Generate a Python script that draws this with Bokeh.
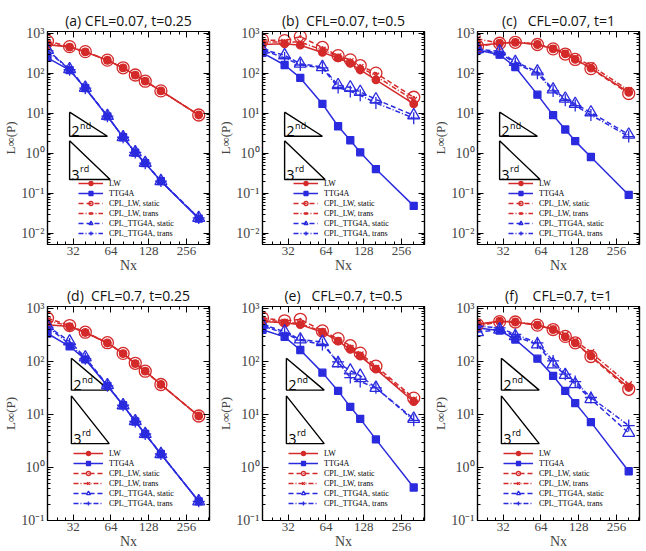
from bokeh.plotting import figure
from bokeh.layouts import gridplot
from bokeh.models import (FixedTicker, LogAxis, CustomJSTickFormatter, Legend,
                          LegendItem, ColumnDataSource, Range1d)
from bokeh.core.properties import value
from bokeh.embed import file_html
from bokeh.resources import INLINE

# grid sizes
nx = [20, 30, 40, 60, 80, 100, 120, 160, 320]
x_ticks = [32, 64, 128, 256]
series_names = ["LW", "TTG4A", "CPL_LW, static", "CPL_LW, trans",
                "CPL_TTG4A, static", "CPL_TTG4A, trans"]

# (a) CFL=0.07, t=0.25
a_lw = [510, 450, 340, 210, 135, 89, 63, 36, 9.0]
a_ttg4a = [240, 119, 42, 8.3, 2.5, 1.03, 0.56, 0.20, 0.023]
a_cpl_lw_static = [630, 460, 345, 212, 136, 90, 63, 36, 9.0]
a_cpl_lw_trans = [560, 450, 340, 210, 135, 89, 63, 36, 9.0]
a_cpl_ttg4a_static = [380, 126, 43, 8.5, 2.5, 1.05, 0.57, 0.20, 0.024]
a_cpl_ttg4a_trans = [360, 122, 42, 8.4, 2.5, 1.04, 0.56, 0.20, 0.024]

# (b) CFL=0.07, t=0.5
b_lw = [520, 540, 500, 330, 240, 175, 120, 68, 17]
b_ttg4a = [320, 160, 76, 17, 4.7, 2.1, 1.05, 0.40, 0.048]
b_cpl_lw_static = [680, 650, 820, 440, 275, 215, 155, 100, 25]
b_cpl_lw_trans = [600, 600, 600, 380, 260, 195, 140, 85, 21]
b_cpl_ttg4a_static = [390, 280, 172, 142, 50, 44, 34, 22, 8.8]
b_cpl_ttg4a_trans = [380, 240, 160, 135, 44, 35, 28, 18, 7.5]

# (c) CFL=0.07, t=1
c_lw = [490, 560, 590, 520, 405, 305, 220, 134, 33]
c_ttg4a = [380, 290, 142, 29, 8.9, 3.9, 2.0, 0.80, 0.09]
c_cpl_lw_static = [470, 560, 590, 520, 405, 300, 220, 130, 31]
c_cpl_lw_trans = [720, 560, 600, 540, 420, 320, 240, 156, 37]
c_cpl_ttg4a_static = [400, 350, 190, 110, 39, 23, 17, 10.4, 2.9]
c_cpl_ttg4a_trans = [380, 320, 175, 100, 36, 21, 15.5, 9.0, 2.6]

# (d) CFL=0.7, t=0.25
d_lw = [500, 460, 355, 225, 142, 92, 66, 37, 9.4]
d_ttg4a = [340, 195, 110, 35, 15, 7.4, 4.3, 1.8, 0.23]
d_cpl_lw_static = [660, 480, 360, 228, 143, 93, 66, 37, 9.4]
d_cpl_lw_trans = [600, 470, 355, 225, 142, 92, 66, 37, 9.4]
d_cpl_ttg4a_static = [470, 240, 120, 36, 15, 7.5, 4.3, 1.8, 0.23]
d_cpl_ttg4a_trans = [450, 215, 114, 35, 15, 7.4, 4.3, 1.8, 0.23]

# (e) CFL=0.7, t=0.5
e_lw = [570, 540, 500, 360, 244, 170, 127, 72, 17.5]
e_ttg4a = [400, 294, 166, 62, 28, 14, 8.3, 3.4, 0.42]
e_cpl_lw_static = [670, 590, 630, 380, 272, 200, 145, 82, 20.5]
e_cpl_lw_trans = [620, 560, 520, 370, 250, 180, 135, 75, 19]
e_cpl_ttg4a_static = [500, 370, 262, 234, 93, 68, 54, 32, 8.3]
e_cpl_ttg4a_trans = [480, 340, 254, 211, 99, 50, 42, 32, 7.8]

# (f) CFL=0.7, t=1
f_lw = [516, 580, 560, 487, 404, 294, 227, 128, 32.5]
f_ttg4a = [434, 387, 262, 114, 54, 28, 16.5, 7.2, 0.85]
f_cpl_lw_static = [500, 570, 560, 490, 404, 300, 227, 125, 30]
f_cpl_lw_trans = [460, 580, 565, 500, 420, 320, 250, 150, 37]
f_cpl_ttg4a_static = [360, 404, 303, 211, 89, 56, 37.6, 19.6, 4.5]
f_cpl_ttg4a_trans = [466, 434, 326, 227, 103, 58, 42, 21, 6.2]

RED = "#d42a2a"
BLUE = "#2a2ade"

# line / marker style per series, same order as series_names
styles = [
    dict(color=RED, dash="solid", marker="circle", size=7.5, filled=True),
    dict(color=BLUE, dash="solid", marker="square", size=7, filled=True),
    dict(color=RED, dash="5 3", marker="circle_dot", size=12, filled=False),
    dict(color=RED, dash="5 2 1 2", marker="x", size=9, filled=False),
    dict(color=BLUE, dash="5 3", marker="triangle", size=12, filled=False),
    dict(color=BLUE, dash="5 2 1 2", marker="cross", size=12, filled=False),
]

x_minor = [b * (1 + j / 4) for b in (8, 16, 32, 64, 128, 256) for j in range(1, 4)]
y_major = [10.0 ** k for k in range(-3, 4)]
y_minor = [m * 10.0 ** k for k in range(-3, 3) for m in range(2, 10)]

sup_js = """
const sup = {"-": "\\u207b", "0": "\\u2070", "1": "\\u00b9", "2": "\\u00b2", "3": "\\u00b3",
             "4": "\\u2074", "5": "\\u2075", "6": "\\u2076", "7": "\\u2077", "8": "\\u2078", "9": "\\u2079"};
const e = Math.round(Math.log10(tick));
let s = "";
for (const c of String(e)) { s += sup[c]; }
return "10" + s;
"""

SERIF = "Liberation Serif"


def style_axis(ax, ticker, labels=True):
    ax.ticker = ticker
    ax.major_tick_in = 6
    ax.major_tick_out = 0
    ax.minor_tick_in = 3
    ax.minor_tick_out = 0
    ax.major_tick_line_color = "black"
    ax.minor_tick_line_color = "black"
    ax.axis_line_color = "black"
    ax.axis_line_width = 1.2
    if not labels:
        # mirrored axis: ticks only
        ax.formatter = CustomJSTickFormatter(code="return '';")
        ax.major_label_text_color = None
        ax.major_label_standoff = 0


def make_panel(title, series, y_lo, y_hi, tri, legend_loc, glyph_w, height):
    p = figure(width=215, height=height, x_axis_type="log", y_axis_type="log",
               x_range=Range1d(20, 390), y_range=Range1d(y_lo, y_hi),
               output_backend="svg", toolbar_location=None,
               min_border_left=41, min_border_right=6,
               min_border_top=31, min_border_bottom=29)
    p.grid.visible = False
    p.outline_line_color = "black"
    p.outline_line_width = 1.2
    p.background_fill_color = "white"

    p.title.text = title
    p.title.align = "center"
    p.title.text_font = "Open Sans"
    p.title.text_font_size = "14px"
    p.title.text_font_style = "normal"
    p.title.text_color = "#111111"
    p.title.standoff = 3

    xt = FixedTicker(ticks=x_ticks, minor_ticks=x_minor)
    yt = FixedTicker(ticks=y_major, minor_ticks=y_minor)

    style_axis(p.xaxis[0], xt)
    p.xaxis[0].formatter = CustomJSTickFormatter(code="return String(Math.round(tick));")
    p.xaxis[0].major_label_text_font = SERIF
    p.xaxis[0].major_label_text_font_size = "13px"
    p.xaxis[0].major_label_standoff = 2
    p.xaxis[0].axis_label = "Nx"
    p.xaxis[0].axis_label_text_font = SERIF
    p.xaxis[0].axis_label_text_font_size = "14px"
    p.xaxis[0].axis_label_text_font_style = "normal"
    p.xaxis[0].axis_label_standoff = 0

    style_axis(p.yaxis[0], yt)
    p.yaxis[0].formatter = CustomJSTickFormatter(code=sup_js)
    p.yaxis[0].major_label_text_font = SERIF
    p.yaxis[0].major_label_text_font_size = "14px"
    p.yaxis[0].major_label_standoff = 3
    p.yaxis[0].axis_label = "L\u221e(P)"
    p.yaxis[0].axis_label_text_font = SERIF
    p.yaxis[0].axis_label_text_font_size = "13px"
    p.yaxis[0].axis_label_text_font_style = "normal"
    p.yaxis[0].axis_label_standoff = 0

    right = LogAxis()
    style_axis(right, FixedTicker(ticks=y_major, minor_ticks=y_minor), labels=False)
    p.add_layout(right, "right")
    top = LogAxis()
    style_axis(top, FixedTicker(ticks=x_ticks, minor_ticks=x_minor), labels=False)
    p.add_layout(top, "above")

    # slope triangles
    x0, ratio2, top2, ratio3, top3 = tri
    for order, ratio, ytop, lbl, sup in ((2, ratio2, top2, "2", "nd"), (3, ratio3, top3, "3", "rd")):
        x1 = x0 * ratio
        ybot = ytop / ratio ** order
        p.line([x0, x0, x1, x0], [ytop, ybot, ybot, ytop], line_color="black", line_width=1.4)
        p.text([x0], [ybot], text=[lbl], text_font=value("Open Sans"), text_font_size="14px",
               text_baseline="bottom", x_offset=2, y_offset=0, text_color="black")
        p.text([x0], [ybot], text=[sup], text_font=value("Open Sans"), text_font_size="9px",
               text_baseline="bottom", x_offset=10.5, y_offset=-4.5, text_color="black")

    items = []
    for name, ys, st in zip(series_names, series, styles):
        src = ColumnDataSource(dict(x=nx, y=ys))
        lr = p.line("x", "y", source=src, line_color=st["color"], line_width=1.5,
                    line_dash=st["dash"])
        sr = p.scatter("x", "y", source=src, marker=st["marker"], size=st["size"],
                       line_color=st["color"], line_width=1.3,
                       fill_color=st["color"] if st["filled"] else None)
        items.append(LegendItem(label=name, renderers=[lr, sr]))

    leg = Legend(items=items, location=legend_loc, padding=0, margin=0, spacing=0,
                 glyph_width=glyph_w, glyph_height=10, label_height=10,
                 label_standoff=6, label_text_font=SERIF, label_text_font_size="8px",
                 label_text_color="black",
                 background_fill_alpha=0, border_line_alpha=0)
    p.add_layout(leg)
    return p


NB = "\u00a0"
tri_top = (30, 2.0, 10.6, 2.1, 2.03)
tri_bot = (31, 2.0, 116, 2.0, 22.6)

pa = make_panel("(a) CFL=0.07, t=0.25",
                [a_lw, a_ttg4a, a_cpl_lw_static, a_cpl_lw_trans, a_cpl_ttg4a_static, a_cpl_ttg4a_trans],
                0.0052, 1100, tri_top, (31, 6), 25, 275)
pb = make_panel("(b)" + NB * 2 + "CFL=0.07, t=0.5",
                [b_lw, b_ttg4a, b_cpl_lw_static, b_cpl_lw_trans, b_cpl_ttg4a_static, b_cpl_ttg4a_trans],
                0.0052, 1100, tri_top, (31, 6), 25, 275)
pc = make_panel("(c)" + NB * 3 + "CFL=0.07, t=1",
                [c_lw, c_ttg4a, c_cpl_lw_static, c_cpl_lw_trans, c_cpl_ttg4a_static, c_cpl_ttg4a_trans],
                0.0052, 1100, tri_top, (31, 6), 25, 275)
pd_ = make_panel("(d)" + NB * 2 + "CFL=0.7, t=0.25",
                 [d_lw, d_ttg4a, d_cpl_lw_static, d_cpl_lw_trans, d_cpl_ttg4a_static, d_cpl_ttg4a_trans],
                 0.0999, 1100, tri_bot, (26, 12), 30, 276)
pe = make_panel("(e)" + NB * 3 + "CFL=0.7, t=0.5",
                [e_lw, e_ttg4a, e_cpl_lw_static, e_cpl_lw_trans, e_cpl_ttg4a_static, e_cpl_ttg4a_trans],
                0.0999, 1100, tri_bot, (26, 12), 30, 276)
pf = make_panel("(f)" + NB * 4 + "CFL=0.7, t=1",
                [f_lw, f_ttg4a, f_cpl_lw_static, f_cpl_lw_trans, f_cpl_ttg4a_static, f_cpl_ttg4a_trans],
                0.0999, 1100, tri_bot, (26, 12), 30, 276)

grid = gridplot([[pa, pb, pc], [pd_, pe, pf]], toolbar_location=None)

open("out.html", "w").write(file_html(grid, INLINE))
